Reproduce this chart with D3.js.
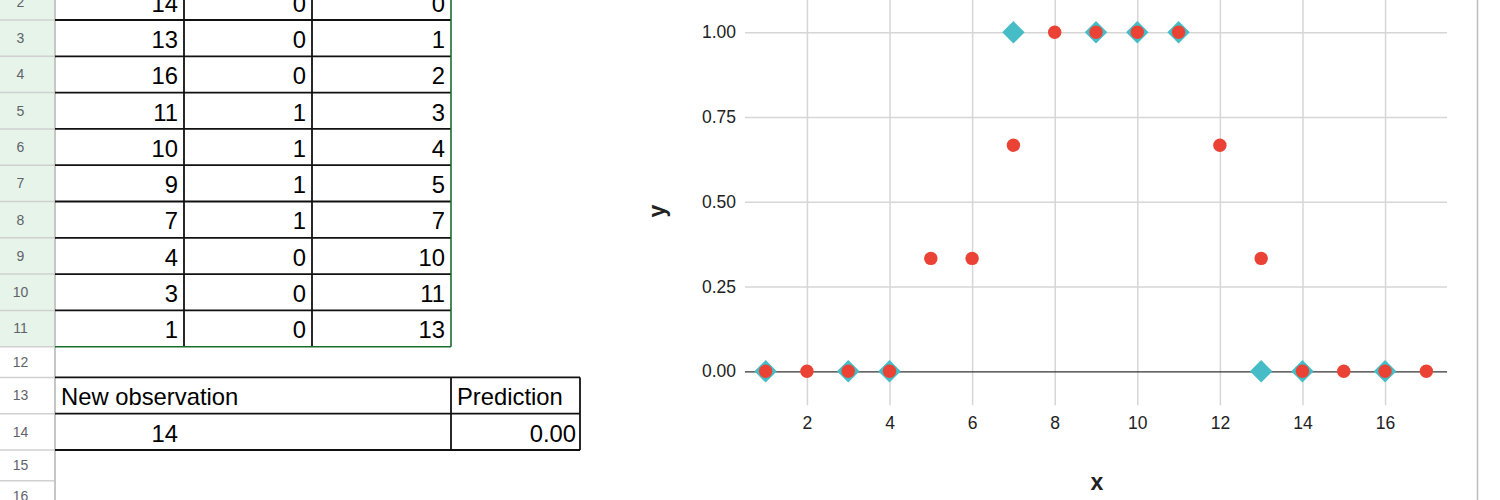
<!DOCTYPE html>
<html><head><meta charset="utf-8">
<script src="https://cdn.jsdelivr.net/npm/d3@7"></script>
<style>
body{margin:0;background:#fff;}
svg{display:block;}
text{font-family:"Liberation Sans", Arial, sans-serif;}
</style>
</head><body>
<svg id="c" width="1500" height="500"></svg>
<script>
// ---- Data ----
const rowNumbers = [2,3,4,5,6,7,8,9,10,11,12,13,14,15,16];
const colA = [14,13,16,11,10,9,7,4,3,1];
const colB = [0,0,0,1,1,1,1,0,0,0];
const colC = [0,1,2,3,4,5,7,10,11,13];
const newObsLabel = "New observation";
const predictionLabel = "Prediction";
const newObsValue = "14";
const predictionValue = "0.00";
const obsX = [14,13,16,11,10,9,7,4,3,1];
const obsY = [0,0,0,1,1,1,1,0,0,0];
const predX = [1,2,3,4,5,6,7,8,9,10,11,12,13,14,15,16,17];
const predY = [0,0,0,0,0.333,0.333,0.667,1,1,1,1,0.667,0.333,0,0,0,0];
const xTicks = [2,4,6,8,10,12,14,16];
const yTicks = [0,0.25,0.5,0.75,1];
const xTitle = "x", yTitle = "y";

const svg = d3.select("#c");
const cellFont = 23.8;

// ---- Spreadsheet ----
const headerW = 55;
const colEdges = [55,184,312,451];
const rowH = 36.3;
const firstTop = 20 - rowH;
const rowsGeom = [];
let yCur = firstTop;
rowNumbers.forEach(n=>{
  const h = (n===12||n===15||n===16) ? 30.7 : rowH;
  rowsGeom.push({n, top:yCur, bottom:yCur+h});
  yCur += h;
});
const dataRows = rowsGeom.filter(r=>r.n>=2 && r.n<=11);
const g = svg.append("g");

// header background
g.selectAll("rect.hdr").data(rowsGeom).join("rect")
  .attr("x",0).attr("y",d=>d.top).attr("width",headerW).attr("height",d=>d.bottom-d.top)
  .attr("fill",d=>d.n<=11?"#e6f4ea":"#ffffff");
g.selectAll("line.hsep").data(rowsGeom).join("line")
  .attr("x1",0).attr("x2",headerW).attr("y1",d=>d.bottom).attr("y2",d=>d.bottom)
  .attr("stroke","#d0d0d0").attr("stroke-width",1.5);
g.append("line").attr("x1",headerW).attr("x2",headerW).attr("y1",0).attr("y2",500)
  .attr("stroke","#c4c7c5").attr("stroke-width",2);
g.selectAll("text.rn").data(rowsGeom).join("text")
  .attr("x",20.5).attr("y",d=>(d.top+d.bottom)/2).attr("dy","0.35em")
  .attr("text-anchor","middle").attr("font-size",14).attr("fill","#5f6368")
  .text(d=>d.n);

// data cell borders
const dTop = dataRows[0].top, dBot = dataRows[dataRows.length-1].bottom;
g.selectAll("line.dh").data(dataRows.slice(0,-1)).join("line")
  .attr("x1",headerW).attr("x2",colEdges[3]).attr("y1",d=>d.bottom).attr("y2",d=>d.bottom)
  .attr("stroke","#111").attr("stroke-width",1.8);
[colEdges[1],colEdges[2]].forEach(x=>{
  g.append("line").attr("x1",x).attr("x2",x).attr("y1",dTop).attr("y2",dBot)
   .attr("stroke","#111").attr("stroke-width",1.8);
});
g.append("line").attr("x1",headerW).attr("x2",colEdges[3]).attr("y1",dBot).attr("y2",dBot)
  .attr("stroke","#1b6e2e").attr("stroke-width",1.6);
g.append("line").attr("x1",colEdges[3]).attr("x2",colEdges[3]).attr("y1",dTop).attr("y2",dBot)
  .attr("stroke","#1b6e2e").attr("stroke-width",1.6);

const cols = [colA,colB,colC];
cols.forEach((col,ci)=>{
  g.selectAll(null).data(col).join("text")
   .attr("x",colEdges[ci+1]-6).attr("y",(d,i)=>dataRows[i].bottom-8.4)
   .attr("text-anchor","end").attr("font-size",cellFont).attr("fill","#000")
   .text(d=>d);
});

// prediction table
const r13 = rowsGeom.find(r=>r.n===13), r14 = rowsGeom.find(r=>r.n===14);
const pRight = 580;
[r13.top, r13.bottom, r14.bottom].forEach(y=>{
  g.append("line").attr("x1",headerW).attr("x2",pRight).attr("y1",y).attr("y2",y)
   .attr("stroke","#111").attr("stroke-width",1.8);
});
[colEdges[3], pRight].forEach(x=>{
  g.append("line").attr("x1",x).attr("x2",x).attr("y1",r13.top).attr("y2",r14.bottom)
   .attr("stroke","#111").attr("stroke-width",1.8);
});
g.append("text").attr("x",61).attr("y",r13.bottom-8.4).attr("font-size",cellFont).text(newObsLabel);
g.append("text").attr("x",colEdges[3]+6).attr("y",r13.bottom-8.4).attr("font-size",cellFont).text(predictionLabel);
g.append("text").attr("x",colEdges[1]-6).attr("y",r14.bottom-8.4).attr("font-size",cellFont).attr("text-anchor","end").text(newObsValue);
g.append("text").attr("x",pRight-4).attr("y",r14.bottom-8.4).attr("font-size",cellFont).attr("text-anchor","end").text(predictionValue);

// ---- Chart ----
const x = d3.scaleLinear().domain([0.5,17.5]).range([745,1447]);
const y = d3.scaleLinear().domain([-0.1,1.1]).range([405.2,-1.6]);
const plotL = 745, plotR = 1447, plotT = -2, plotB = 405.2;

svg.append("line").attr("x1",1477.5).attr("x2",1477.5).attr("y1",0).attr("y2",500)
  .attr("stroke","#bdbdbd").attr("stroke-width",1.5);

const yAxis = svg.append("g").attr("transform",`translate(${plotL},0)`)
  .call(d3.axisLeft(y).tickValues(yTicks).tickFormat(d3.format(".2f"))
    .tickSize(-(plotR-plotL)).tickPadding(9));
yAxis.select(".domain").remove();
yAxis.selectAll(".tick line").attr("stroke",d=>d===0?"#333":"#d6d6d6").attr("stroke-width",d=>d===0?1.3:1.5);
yAxis.selectAll(".tick text").attr("font-size",17.5).attr("fill","#222")
  .style("font-family","'Liberation Sans', Arial, sans-serif");

const xAxis = svg.append("g").attr("transform",`translate(0,${plotB})`)
  .call(d3.axisBottom(x).tickValues(xTicks).tickFormat(d3.format("d"))
    .tickSize(-(plotB-plotT)).tickPadding(11));
xAxis.select(".domain").remove();
xAxis.selectAll(".tick line").attr("stroke","#d6d6d6").attr("stroke-width",1.5);
xAxis.selectAll(".tick text").attr("font-size",17.5).attr("fill","#222")
  .style("font-family","'Liberation Sans', Arial, sans-serif");
yAxis.raise();
yAxis.selectAll(".tick").filter(d=>d!==0).lower();

// axis titles
svg.append("text").attr("x",1097).attr("y",482).attr("dy","0.35em").attr("text-anchor","middle")
  .attr("font-size",23).attr("font-weight","bold").attr("fill","#222").text(xTitle);
svg.append("text").attr("transform","translate(656.5,211) rotate(-90)").attr("dy","0.35em")
  .attr("text-anchor","middle").attr("font-size",23).attr("font-weight","bold").attr("fill","#222").text(yTitle);

// observations: diamonds
const diamond = d3.symbol().type(d3.symbolSquare).size(253);
svg.append("g").selectAll("path").data(obsX.map((v,i)=>({x:v,y:obsY[i]}))).join("path")
  .attr("d",diamond)
  .attr("transform",d=>`translate(${x(d.x)},${y(d.y)}) rotate(45)`)
  .attr("fill","#46bdc6");

// predictions: circles
svg.append("g").selectAll("circle").data(predX.map((v,i)=>({x:v,y:predY[i]}))).join("circle")
  .attr("cx",d=>x(d.x)).attr("cy",d=>y(d.y)).attr("r",6.7)
  .attr("fill","#ea4335");
</script>
</body></html>
